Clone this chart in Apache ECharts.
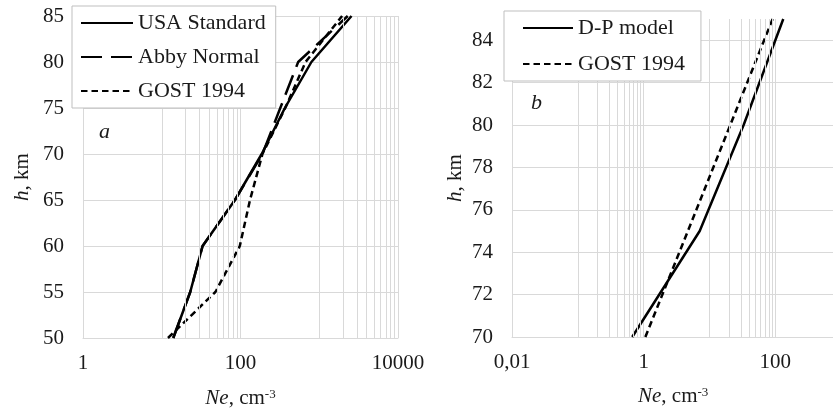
<!DOCTYPE html>
<html>
<head>
<meta charset="utf-8">
<script src="https://cdn.jsdelivr.net/npm/echarts@6/dist/echarts.min.js"></script>
<style>
  html, body { margin: 0; padding: 0; background: #fff; }
  #chart { width: 833px; height: 412px; }
</style>
</head>
<body>
<div id="chart"></div>
<script>
// Electron density profiles of the lower ionosphere (h in km, Ne in cm^-3)
const heightsA = [50, 55, 60, 65, 70, 75, 80, 85];
const usaStandard = [14, 23, 33, 85, 186, 366, 795, 2570];
const abbyNormal = [14, 23, 33, 85, 190, 320, 540, 2300];
const gostA = [12, 48, 98, 132, 190, 370, 670, 1950];

const heightsB = [70, 75, 80, 85];
const dpModel = [0.67, 7.1, 33, 132];
const gostB = [1.06, 4.7, 20.7, 91];

const namesA = ['USA Standard', 'Abby Normal', 'GOST 1994'];
const namesB = ['D-P model', 'GOST 1994'];

const xTicksA = [1, 100, 10000];
const xTickLabelsA = ['1', '100', '10000'];
const xTicksB = [0.01, 1, 100];
const xTickLabelsB = ['0,01', '1', '100'];

const FONT = 'Liberation Serif';
const TEXT = '#1a1a1a';
const GRID = '#d9d9d9';

function pairs(xs, ys) { return xs.map((x, i) => [x, ys[i]]); }

function tickFormatter(ticks, labels) {
  return function (v) {
    for (let i = 0; i < ticks.length; i++) {
      if (Math.abs(Math.log10(v) - Math.log10(ticks[i])) < 1e-6) return labels[i];
    }
    return '';
  };
}

// minor vertical grid lines at 2..9 times the given decade starts
function minorLines(decades) {
  const out = [];
  decades.forEach(d => { for (let k = 2; k <= 9; k++) out.push({ xAxis: k * d }); });
  return out;
}

const neRich = {
  i: { fontFamily: FONT, fontSize: 21, fontStyle: 'italic', color: TEXT },
  s: { fontFamily: FONT, fontSize: 13, color: TEXT, verticalAlign: 'top', lineHeight: 13 }
};

function axisNameY(gap) {
  return {
    name: '{i|h}, km',
    nameLocation: 'middle',
    nameGap: gap,
    nameTextStyle: {
      fontFamily: FONT, fontSize: 21, color: TEXT,
      rich: { i: { fontFamily: FONT, fontSize: 21, fontStyle: 'italic', color: TEXT } }
    }
  };
}

const labelStyle = { fontFamily: FONT, fontSize: 21, color: TEXT };

function lineSeries(name, xi, xs, ys, dash) {
  return {
    name: name, type: 'line', xAxisIndex: xi, yAxisIndex: xi,
    symbol: 'none', silent: true, z: 3,
    itemStyle: { color: '#000' },
    lineStyle: { color: '#000', width: 2.5, type: dash },
    data: pairs(xs, ys)
  };
}

function gridSeries(xi, lines) {
  return {
    type: 'line', xAxisIndex: xi, yAxisIndex: xi, data: [], silent: true, z: 1,
    markLine: {
      silent: true, symbol: ['none', 'none'], animation: false,
      label: { show: false },
      lineStyle: { color: GRID, width: 1, type: 'solid' },
      emphasis: { disabled: true },
      data: lines
    }
  };
}

function legendBox(names, left, top, padding, gap, itemWidth) {
  return {
    data: names, orient: 'vertical', left: left, top: top,
    padding: padding, itemGap: gap, itemWidth: itemWidth, itemHeight: 20,
    backgroundColor: '#fff', borderColor: '#bfbfbf', borderWidth: 1, borderRadius: 0,
    selectedMode: false, z: 10,
    itemStyle: { opacity: 0, borderWidth: 0 },
    textStyle: { fontFamily: FONT, fontSize: 22, color: TEXT }
  };
}

const chart = echarts.init(document.getElementById('chart'), null, { renderer: 'canvas' });

chart.setOption({
  animation: false,
  backgroundColor: '#fff',
  grid: [
    { left: 83, top: 16, width: 315, height: 322, outerBoundsMode: 'none' },
    { left: 512, top: 19, width: 395, height: 318, outerBoundsMode: 'none' }
  ],
  xAxis: [
    {
      gridIndex: 0, type: 'log', logBase: 10, min: 1, max: 10000, splitNumber: 4,
      axisLine: { show: true, lineStyle: { color: GRID, width: 1 } },
      axisTick: { show: false },
      axisLabel: Object.assign({ margin: 15, formatter: tickFormatter(xTicksA, xTickLabelsA) }, labelStyle),
      splitLine: { show: true, lineStyle: { color: GRID, width: 1 } },
      minorTick: { show: false }, minorSplitLine: { show: false },
      name: '{i|Ne}, cm{s|-3}',
      nameLocation: 'middle',
      nameGap: 50,
      nameTextStyle: { fontFamily: FONT, fontSize: 21, color: TEXT, rich: neRich }
    },
    {
      gridIndex: 1, type: 'log', logBase: 10, min: 0.01, max: 10000, splitNumber: 6,
      axisLine: { show: true, lineStyle: { color: GRID, width: 1 } },
      axisTick: { show: false },
      axisLabel: Object.assign({ margin: 15, formatter: tickFormatter(xTicksB, xTickLabelsB) }, labelStyle),
      splitLine: { show: true, lineStyle: { color: GRID, width: 1 } },
      minorTick: { show: false }, minorSplitLine: { show: false }
    }
  ],
  yAxis: [
    Object.assign({
      gridIndex: 0, type: 'value', min: 50, max: 85, interval: 5,
      axisLine: { show: true, lineStyle: { color: GRID, width: 1 } },
      axisTick: { show: false },
      axisLabel: Object.assign({ margin: 19 }, labelStyle),
      splitLine: { show: true, lineStyle: { color: GRID, width: 1 } }
    }, axisNameY(50)),
    Object.assign({
      gridIndex: 1, type: 'value', min: 70, max: 85, interval: 2,
      axisLine: { show: true, lineStyle: { color: GRID, width: 1 } },
      axisTick: { show: false },
      axisLabel: Object.assign({ margin: 19, showMaxLabel: false }, labelStyle),
      splitLine: { show: true, showMaxLine: false, lineStyle: { color: GRID, width: 1 } }
    }, axisNameY(46))
  ],
  legend: [
    legendBox(namesA, 72, 6, [6, 10, 6, 8], 12, 52),
    legendBox(namesB, 504, 11, [6, 16, 6, 18], 14, 50)
  ],
  graphic: [
    { type: 'text', left: 99, top: 121, silent: true,
      style: { text: 'a', fontFamily: FONT, fontSize: 22, fontStyle: 'italic', fill: TEXT } },
    { type: 'text', left: 531, top: 92, silent: true,
      style: { text: 'b', fontFamily: FONT, fontSize: 22, fontStyle: 'italic', fill: TEXT } },
    // axis title of the right panel, centred under its visible part
    { type: 'text', left: 638, top: 386, silent: true,
      style: {
        text: '{i|Ne}, cm{s|-3}', fontFamily: FONT, fontSize: 21, fill: TEXT,
        rich: {
          i: { fontFamily: FONT, fontSize: 21, fontStyle: 'italic', fill: TEXT },
          s: { fontFamily: FONT, fontSize: 13, fill: TEXT, verticalAlign: 'top', lineHeight: 13 }
        }
      } }
  ],
  series: [
    gridSeries(0, minorLines([10, 1000])),
    gridSeries(1, minorLines([0.1, 10])),
    lineSeries(namesA[0], 0, usaStandard, heightsA, 'solid'),
    lineSeries(namesA[1], 0, abbyNormal, heightsA, [21, 9]),
    lineSeries(namesA[2], 0, gostA, heightsA, [6.5, 4]),
    lineSeries(namesB[0], 1, dpModel, heightsB, 'solid'),
    lineSeries(namesB[1], 1, gostB, heightsB, [6.5, 4])
  ]
});
</script>
</body>
</html>
